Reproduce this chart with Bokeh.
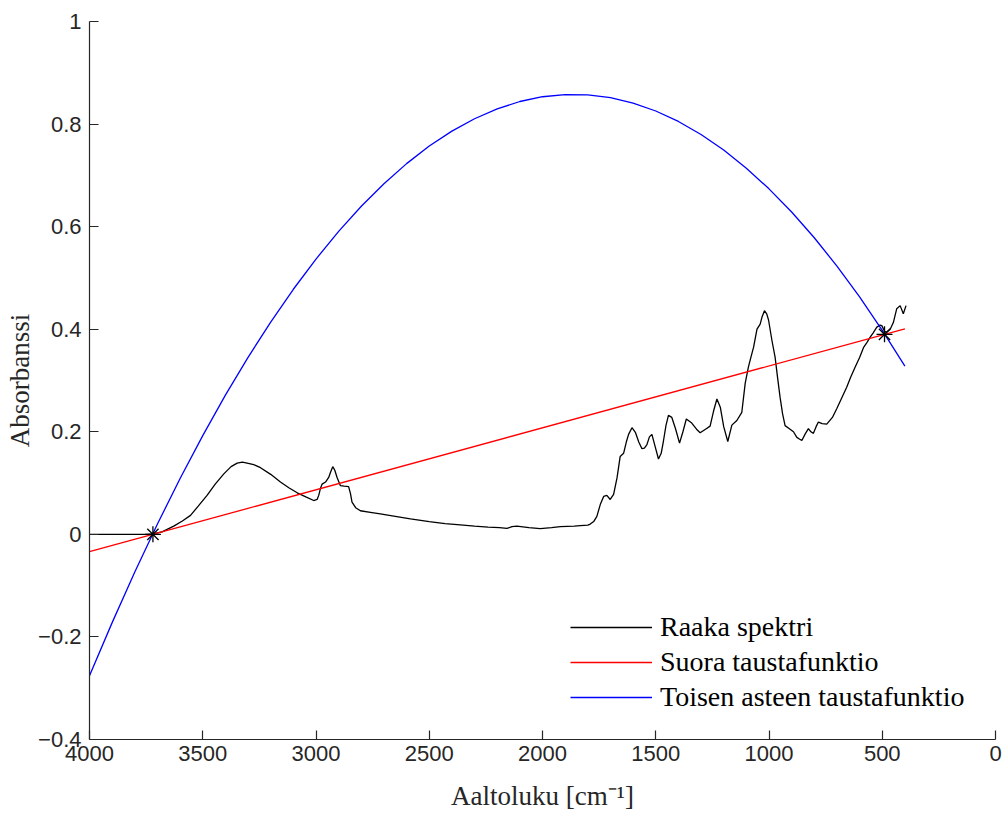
from bokeh.plotting import figure
from bokeh.models import Range1d, FixedTicker, Legend, LegendItem
from bokeh.embed import file_html
from bokeh.resources import INLINE

# ---- data ----
spec_x = [4000, 3900, 3800, 3750, 3720, 3680, 3628, 3590, 3554, 3520, 3481, 3445, 3407, 3375,
          3348, 3325, 3304, 3275, 3245, 3200, 3157, 3120, 3083, 3045, 3010, 2995, 2988, 2980,
          2973, 2958, 2944, 2935, 2926, 2917, 2907, 2892, 2875, 2856, 2848, 2841, 2825, 2804,
          2760, 2716, 2650, 2583, 2500, 2430, 2363, 2300, 2240, 2190, 2157, 2135, 2113, 2060,
          2010, 1960, 1921, 1860, 1833, 1800, 1789, 1774, 1760, 1745, 1730, 1716, 1701, 1686,
          1671, 1657, 1642, 1630, 1620, 1605, 1590, 1575, 1561, 1550, 1539, 1528, 1517, 1502,
          1488, 1476, 1466, 1455, 1444, 1429, 1412, 1395, 1380, 1365, 1341, 1320, 1304, 1277,
          1260, 1245, 1230, 1215, 1200, 1182, 1164, 1142, 1120, 1105, 1091, 1080, 1068, 1053,
          1039, 1030, 1020, 1010, 1002, 987, 973, 962, 951, 940, 929, 910, 892, 877, 866, 855,
          840, 826, 815, 804, 792, 782, 765, 745, 720, 701, 680, 657, 640, 620, 600, 583, 568,
          554, 540, 524, 510, 502, 490, 480, 465, 451, 436, 421, 407, 395]
spec_y = [0.000, 0.000, 0.000, 0.000, 0.001, 0.005, 0.016, 0.026, 0.037, 0.055, 0.076, 0.098,
          0.118, 0.132, 0.139, 0.141, 0.139, 0.136, 0.130, 0.117, 0.102, 0.091, 0.081, 0.073,
          0.066, 0.068, 0.076, 0.090, 0.098, 0.102, 0.111, 0.122, 0.132, 0.125, 0.111, 0.095,
          0.094, 0.093, 0.080, 0.063, 0.052, 0.046, 0.043, 0.040, 0.035, 0.030, 0.025, 0.021,
          0.0185, 0.016, 0.014, 0.013, 0.0115, 0.015, 0.016, 0.013, 0.011, 0.013, 0.015, 0.016,
          0.017, 0.018, 0.020, 0.025, 0.035, 0.058, 0.074, 0.076, 0.068, 0.078, 0.110, 0.152,
          0.158, 0.180, 0.195, 0.208, 0.199, 0.180, 0.167, 0.168, 0.175, 0.190, 0.195, 0.170,
          0.147, 0.158, 0.182, 0.212, 0.232, 0.228, 0.205, 0.178, 0.200, 0.225, 0.217, 0.205,
          0.198, 0.206, 0.211, 0.240, 0.264, 0.248, 0.210, 0.181, 0.213, 0.222, 0.238, 0.295,
          0.326, 0.345, 0.365, 0.400, 0.410, 0.425, 0.436, 0.430, 0.418, 0.378, 0.345, 0.305,
          0.267, 0.235, 0.212, 0.206, 0.200, 0.189, 0.186, 0.183, 0.196, 0.206, 0.200, 0.197,
          0.210, 0.219, 0.216, 0.215, 0.228, 0.245, 0.265, 0.287, 0.306, 0.326, 0.345, 0.364,
          0.374, 0.384, 0.393, 0.404, 0.408, 0.407, 0.396, 0.394, 0.400, 0.413, 0.440, 0.446,
          0.430, 0.446]

lin_x = [4000, 400]
lin_y = [-0.0338, 0.4009]

quad_x = [4000, 3900, 3800, 3700, 3600, 3500, 3400, 3300, 3200, 3100, 3000, 2900, 2800, 2700,
          2600, 2500, 2400, 2300, 2200, 2100, 2000, 1900, 1800, 1700, 1600, 1500, 1400, 1300,
          1200, 1100, 1000, 900, 800, 700, 600, 500, 400]
quad_y = [-0.2756, -0.1721, -0.0735, 0.0202, 0.1089, 0.1926, 0.2714, 0.3452, 0.4140, 0.4779,
          0.5368, 0.5908, 0.6398, 0.6838, 0.7229, 0.7571, 0.7862, 0.8104, 0.8297, 0.8440,
          0.8533, 0.8576, 0.8570, 0.8515, 0.8410, 0.8255, 0.8051, 0.7797, 0.7493, 0.7140,
          0.6737, 0.6285, 0.5783, 0.5231, 0.4630, 0.3979, 0.3279]

anchor_x = [3720, 490]
anchor_y = [0.0, 0.39]

x_ticks = [0, 500, 1000, 1500, 2000, 2500, 3000, 3500, 4000]
x_tick_labels = ["0", "500", "1000", "1500", "2000", "2500", "3000", "3500", "4000"]
y_ticks = [-0.4, -0.2, 0, 0.2, 0.4, 0.6, 0.8, 1.0]
y_tick_labels = ["\u22120.4", "\u22120.2", "0", "0.2", "0.4", "0.6", "0.8", "1"]

series_names = ["Raaka spektri", "Suora taustafunktio", "Toisen asteen taustafunktio"]

# ---- figure ----
p = figure(width=1006, height=817, output_backend="svg", toolbar_location=None,
           x_range=Range1d(4000, 0), y_range=Range1d(-0.4, 1),
           min_border_left=89, min_border_right=11, min_border_top=21, min_border_bottom=78)
p.background_fill_color = "white"
p.border_fill_color = "white"
p.outline_line_color = None
p.grid.visible = False

axis_col = "#262626"
for ax in (p.xaxis, p.yaxis):
    ax.axis_line_color = axis_col
    ax.axis_line_width = 1.2
    ax.major_tick_line_color = axis_col
    ax.major_tick_line_width = 1.2
    ax.major_tick_in = 9
    ax.major_tick_out = 0
    ax.minor_tick_line_color = None
    ax.major_label_text_font = "Liberation Sans"
    ax.major_label_text_font_size = "22px"
    ax.major_label_text_color = axis_col
    ax.axis_label_text_font = "Liberation Serif"
    ax.axis_label_text_font_size = "27px"
    ax.axis_label_text_font_style = "normal"
    ax.axis_label_text_color = axis_col

p.xaxis.ticker = FixedTicker(ticks=x_ticks)
p.xaxis.major_label_overrides = {t: l for t, l in zip(x_ticks, x_tick_labels)}
p.yaxis.ticker = FixedTicker(ticks=y_ticks)
p.yaxis.major_label_overrides = {t: l for t, l in zip(y_ticks, y_tick_labels)}
p.xaxis.major_label_standoff = 6
p.yaxis.major_label_standoff = 8
p.xaxis.axis_label = "Aaltoluku [cm\u207b\u00b9]"
p.yaxis.axis_label = "Absorbanssi"
p.xaxis.axis_label_standoff = 17
p.yaxis.axis_label_standoff = 0

r_spec = p.line(spec_x, spec_y, line_color="black", line_width=1.3)
r_lin = p.line(lin_x, lin_y, line_color="#ff0000", line_width=1.3)
r_quad = p.line(quad_x, quad_y, line_color="#0000ff", line_width=1.3)
p.scatter(anchor_x, anchor_y, marker="asterisk", size=16, line_color="black", line_width=1.3)

legend = Legend(items=[LegendItem(label=series_names[0], renderers=[r_spec]),
                       LegendItem(label=series_names[1], renderers=[r_lin]),
                       LegendItem(label=series_names[2], renderers=[r_quad])],
                location=(481, 26))
legend.border_line_color = None
legend.background_fill_alpha = 0
legend.padding = 0
legend.margin = 0
legend.spacing = 3
legend.glyph_width = 82
legend.glyph_height = 30
legend.label_height = 30
legend.label_standoff = 8
legend.label_text_font = "Liberation Serif"
legend.label_text_font_size = "28px"
legend.label_text_color = "black"
p.add_layout(legend)

open("out.html", "w").write(file_html(p, INLINE))
